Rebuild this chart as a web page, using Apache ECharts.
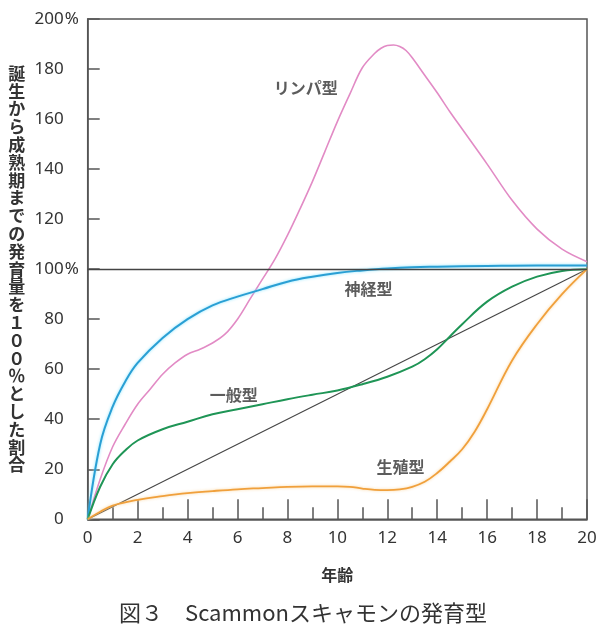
<!DOCTYPE html>
<html>
<head>
<meta charset="utf-8">
<script src="https://cdn.jsdelivr.net/npm/echarts@6/dist/echarts.min.js"></script>
<style>
html,body{margin:0;padding:0;background:#fff;}
#chart{width:606px;height:629px;}
</style>
</head>
<body>
<div id="chart"></div>
<script>
// ---- data ----
const lymphX = [0,0.5,1,1.5,2,2.5,3,3.5,4,4.5,5,5.5,6,6.5,7,7.5,8,8.5,9,9.5,10,10.5,11,11.5,11.75,12,12.25,12.5,12.75,13,13.5,14,14.5,15,16,17,18,19,20];
const lymphY = [0,16,29,38,46,52,58,62.5,66,68,70.5,74,80,88,96,104,113.5,124,135,147,159,170,180.5,186.3,188.3,189.4,189.6,189,187.4,184.5,177.5,170.5,163,156,142,127.5,116,108,103];

const neuralX = [0,0.5,1,1.5,2,3,4,5,6,7,8,9,10,11,12,13,14,16,18,20];
const neuralY = [0,30,45,55,62.5,72.5,80,85.5,89,92,95,97,98.5,99.5,100.3,100.8,101,101.3,101.5,101.5];

const generalX = [0,0.5,1,1.5,2,3,4,5,6,7,8,9,10,11,12,13,13.5,14,14.5,15,16,17,18,19,20];
const generalY = [0,13,22,27.5,31.5,36,39,42,44,46,48,49.8,51.5,54,57,61,64,68,73,78,87,93,97,99.3,100];

const reproX = [0,0.5,1,2,3,4,5,6,7,8,9,10,10.5,11,11.5,12,12.5,13,13.5,14,14.5,15,15.5,16,17,18,19,20];
const reproY = [0,3,5.5,7.8,9.3,10.5,11.3,12,12.5,13,13.2,13.2,13,12.3,11.8,11.7,12,13,15,18.5,23,28,35,44,63.5,78,90,100];

const refX = [0,20];
const refY = [0,100];

const labelNames = ['リンパ型','神経型','一般型','生殖型'];
const labelX = [8.73, 11.25, 5.85, 12.53];
const labelY = [172.5, 91.9, 49.9, 21.1];

const xTicks = [0,2,4,6,8,10,12,14,16,18,20];
const yTicks = [0,20,40,60,80,100,120,140,160,180,200];
const yPercentTicks = [100,200];

const titleText = '図３　Scammonスキャモンの発育型';
const xName = '年齢';
const yName = '誕生から成熟期までの発育量を１００％とした割合';

// ---- chart ----
function pairs(xs, ys){ return xs.map((x,i)=>[x, ys[i]]); }
const CJK = '"Noto Sans CJK JP","Noto Sans",sans-serif';
const NUM = '"Noto Sans",sans-serif';
const TXT = '#333';
const AX = '#555';

const chart = echarts.init(document.getElementById('chart'), null, {renderer:'canvas'});
chart.setOption({
  animation:false,
  backgroundColor:'#fff',
  title:{
    text:titleText, left:'center', top:597,
    textStyle:{fontFamily:CJK, fontSize:22, fontWeight:'normal', color:TXT}
  },
  grid:{left:87.7, right:19, top:19, bottom:109.7, show:true, borderColor:AX, borderWidth:1.5, backgroundColor:'transparent'},
  xAxis:{
    type:'value', min:0, max:20, interval:2,
    name:xName, nameLocation:'middle', nameGap:48,
    nameTextStyle:{fontFamily:CJK, fontSize:16, fontWeight:'bold', color:TXT, verticalAlign:'top'},
    axisLine:{show:true, lineStyle:{color:AX, width:1.5}},
    axisTick:{show:true, inside:true, length:20, lineStyle:{color:AX, width:1.5}},
    minorTick:{show:true, splitNumber:2, length:12, lineStyle:{color:AX, width:1.5}},
    splitLine:{show:false},
    axisLabel:{
      margin:10, fontFamily:NUM, fontSize:17, color:TXT,
      formatter:function(v){ return xTicks.indexOf(v)>=0 ? String(v) : ''; }
    }
  },
  yAxis:{
    type:'value', min:0, max:200, interval:20,
    name:yName.split('').join('\n'), nameLocation:'middle', nameGap:71, nameRotate:0,
    nameTextStyle:{fontFamily:CJK, fontSize:17, fontWeight:'bold', color:TXT, lineHeight:17.8, align:'center', verticalAlign:'middle'},
    axisLine:{show:true, lineStyle:{color:AX, width:1.5}},
    axisTick:{show:true, inside:true, length:12, lineStyle:{color:AX, width:1.5}},
    splitLine:{show:false},
    axisLabel:{
      margin:8, fontFamily:NUM, fontSize:17, color:TXT, align:'right',
      formatter:function(v){
        if (yTicks.indexOf(v) < 0) return '';
        return yPercentTicks.indexOf(v) >= 0 ? '{n|' + v + '}{p|%}' : '{n|' + v + '}{q| }';
      },
      rich:{
        n:{fontFamily:NUM, fontSize:17, color:TXT},
        p:{fontFamily:NUM, fontSize:17, color:TXT, width:16, align:'left'},
        q:{fontFamily:NUM, fontSize:17, color:TXT, width:16}
      }
    }
  },
  series:[
    {
      type:'line', name:'ref', data:pairs(refX, refY), showSymbol:false, symbol:'none',
      lineStyle:{color:'#444', width:1.1}, z:2,
      markLine:{silent:true, symbol:'none', label:{show:false},
        lineStyle:{color:'#444', width:1.3, type:'solid'}, data:[{yAxis:100}]}
    },
    {
      type:'line', name:'リンパ型', data:pairs(lymphX, lymphY), smooth:0.35, symbol:'none',
      lineStyle:{color:'#e28bc5', width:1.6}, z:3
    },
    {
      type:'line', name:'神経型', data:pairs(neuralX, neuralY), smooth:0.4, symbol:'none',
      lineStyle:{color:'#2a9fd4', width:2, shadowColor:'rgba(120,225,255,0.9)', shadowBlur:3}, z:4
    },
    {
      type:'line', name:'一般型', data:pairs(generalX, generalY), smooth:0.4, symbol:'none',
      lineStyle:{color:'#1f9556', width:2}, z:4
    },
    {
      type:'line', name:'生殖型', data:pairs(reproX, reproY), smooth:0.4, symbol:'none',
      lineStyle:{color:'#f0a03c', width:1.8, shadowColor:'rgba(250,210,150,0.9)', shadowBlur:3}, z:4
    },
    {
      type:'scatter', name:'labels', symbolSize:0, silent:true, z:5,
      data:labelNames.map((n,i)=>[labelX[i], labelY[i], n]),
      label:{show:true, position:'inside', formatter:function(p){return p.value[2];},
        fontFamily:CJK, fontSize:16, fontWeight:'bold', color:TXT}
    }
  ]
});
</script>
</body>
</html>
